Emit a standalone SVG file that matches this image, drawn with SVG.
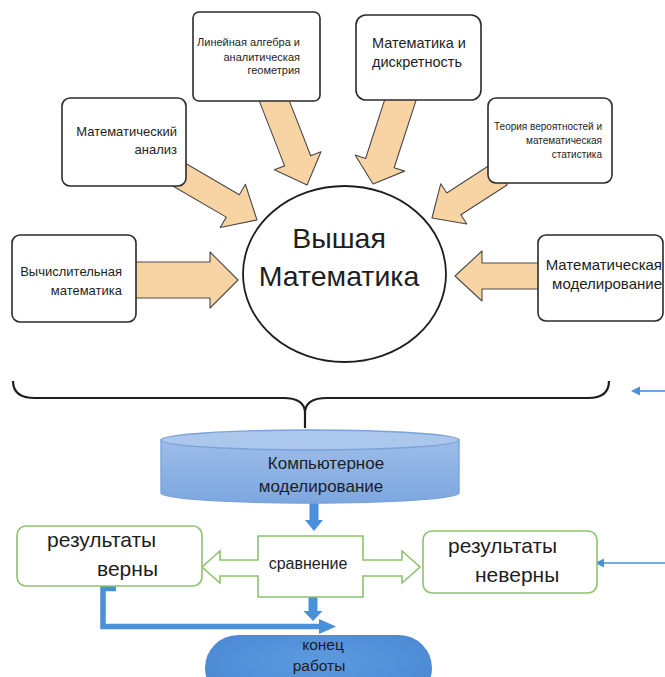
<svg xmlns="http://www.w3.org/2000/svg" width="665" height="677" viewBox="0 0 665 677">
<style>
.box{fill:#fff;stroke:#2b2b2b;stroke-width:1.6}
.fat{fill:#f8d4a4;stroke:#4a4a4a;stroke-width:1.1;stroke-linejoin:round}
.t{font-family:"Liberation Sans",Arial,sans-serif;fill:#1e1e1e}
.gbox{fill:#fff;stroke:#8cc46c;stroke-width:1.6}
.blue{fill:#4a8fd9}
.bl{stroke:#4a8fd9;fill:none}
</style>
<defs>
<linearGradient id="cyl" x1="0" y1="0" x2="0" y2="1">
<stop offset="0" stop-color="#9dbde9"/>
<stop offset="1" stop-color="#7ca7df"/>
</linearGradient>
<radialGradient id="pill" cx="0.5" cy="0.4" r="0.6">
<stop offset="0" stop-color="#5d9be0"/>
<stop offset="1" stop-color="#4a89d3"/>
</radialGradient>
</defs>
<rect width="665" height="677" fill="#fff"/>
<g id="connectors">
<!-- fat peach arrows -->
<polygon class="fat" transform="translate(178,174) rotate(30.2)" points="0,-13 63.4,-13 63.4,-25 91.4,0 63.4,25 63.4,13 0,13"/>
<polygon class="fat" transform="translate(272,95) rotate(68.7)" points="0,-14 70.6,-14 70.6,-25 96.6,0 70.6,25 70.6,14 0,14"/>
<polygon class="fat" transform="translate(402,95) rotate(108)" points="0,-15 71.6,-15 71.6,-26 93.6,0 71.6,26 71.6,15 0,15"/>
<polygon class="fat" transform="translate(500,174) rotate(147.1)" points="0,-13 55,-13 55,-24 81,0 55,24 55,13 0,13"/>
<polygon class="fat" points="130,262 210,262 210,252 238,280 210,308 210,298 130,298"/>
<polygon class="fat" points="545,263 482,263 482,251 455,276 482,301 482,289 545,289"/>
<!-- brace -->
<path d="M13,381 Q13,398 35,398 L283,398 Q305,398 305,413 Q305,398 327,398 L588,398 Q609,398 609,381 M305,413 L305,428" fill="none" stroke="#1e1e1e" stroke-width="2.2"/>
<!-- right thin blue arrows -->
<line class="bl" x1="665" y1="391" x2="638" y2="391" stroke-width="1.6"/>
<polygon class="blue" points="631,391 640,386.5 640,395.5"/>
<line class="bl" x1="665" y1="563" x2="602" y2="563" stroke-width="1.6"/>
<polygon class="blue" points="595,563 604,558.5 604,567.5"/>
<!-- down arrow from cylinder -->
<rect class="blue" x="309.5" y="502" width="9" height="19"/>
<polygon class="blue" points="305,520 323,520 314,531"/>
<!-- down arrow from comparison -->
<rect class="blue" x="308.5" y="596" width="9" height="16"/>
<polygon class="blue" points="303.5,611 322.5,611 313,621"/>
<!-- L-shaped arrow from correct results -->
<path class="bl" d="M116,588.5 L103,588.5 L103,626.5 L322,626.5" stroke-width="5.5"/>
<polygon class="blue" points="319,619 336,626.5 319,634"/>
</g>
<g id="n-lin">
<rect class="box" x="193" y="12" width="127" height="89" rx="6"/>
<text class="t" font-size="11" text-anchor="end" x="300"><tspan x="300" y="46">Линейная алгебра и</tspan><tspan x="300" y="60.5">аналитическая</tspan><tspan x="300" y="74">геометрия</tspan></text>
</g>
<g id="n-disc">
<rect class="box" x="356" y="15" width="125" height="85" rx="10"/>
<text class="t" font-size="14.5"><tspan x="372" y="48">Математика и</tspan><tspan x="372" y="67">дискретность</tspan></text>
</g>
<g id="n-anal">
<rect class="box" x="62" y="98" width="124" height="88" rx="8"/>
<text class="t" font-size="13" text-anchor="end"><tspan x="177" y="136">Математический</tspan><tspan x="177" y="154">анализ</tspan></text>
</g>
<g id="n-prob">
<rect class="box" x="488" y="98" width="124" height="85" rx="8"/>
<text class="t" font-size="10" text-anchor="end"><tspan x="602" y="129.5">Теория вероятностей и</tspan><tspan x="602" y="144">математическая</tspan><tspan x="602" y="157.5">статистика</tspan></text>
</g>
<g id="n-calc">
<rect class="box" x="12" y="235" width="124" height="87" rx="8"/>
<text class="t" font-size="13" text-anchor="end"><tspan x="122" y="276">Вычислительная</tspan><tspan x="122" y="294.5">математика</tspan></text>
</g>
<g id="n-model">
<rect class="box" x="538" y="235" width="125" height="86" rx="8"/>
<text class="t" font-size="15" text-anchor="end"><tspan x="662" y="269.5">Математическая</tspan><tspan x="662" y="289">моделирование</tspan></text>
</g>
<g id="n-main">
<ellipse cx="344.5" cy="274" rx="101.5" ry="88" fill="#fff" stroke="#1e1e1e" stroke-width="1.8"/>
<text class="t" font-size="28.5" text-anchor="middle" fill="#111"><tspan x="339" y="248">Вышая</tspan><tspan x="339" y="286">Математика</tspan></text>
</g>
<g id="n-comp">
<path d="M161,440 L161,493 A149,10 0 0 0 459,493 L459,440 Z" fill="url(#cyl)" stroke="#7aa3da" stroke-width="1.4"/>
<ellipse cx="310" cy="440" rx="149" ry="10" fill="#abc7ec" stroke="#7aa3da" stroke-width="1.4"/>
<text class="t" font-size="17" text-anchor="middle"><tspan x="326" y="469">Компьютерное</tspan><tspan x="321" y="491.5">моделирование</tspan></text>
</g>
<g id="n-cmp">
<polygon class="gbox" points="258,536 363,536 363,560 402,560 402,551 420,567 402,583 402,576 363,576 363,597 258,597 258,576 220,576 220,583 202,567 220,551 220,560 258,560"/>
<text class="t" font-size="16" text-anchor="middle" x="308" y="568.5">сравнение</text>
</g>
<g id="n-ok">
<rect class="gbox" x="17" y="526" width="185" height="60" rx="9"/>
<text class="t" font-size="21"><tspan x="47" y="547">результаты</tspan><tspan x="97" y="576">верны</tspan></text>
</g>
<g id="n-bad">
<rect class="gbox" x="423" y="531" width="174" height="62" rx="9"/>
<text class="t" font-size="21"><tspan x="448" y="553">результаты</tspan><tspan x="475" y="582">неверны</tspan></text>
</g>
<g id="n-end">
<rect x="205" y="635" width="227" height="66" rx="33" fill="url(#pill)"/>
<text class="t" font-size="15.5" text-anchor="middle" fill="#1c2a3a"><tspan x="323" y="650">конец</tspan><tspan x="319" y="671">работы</tspan></text>
</g>
</svg>
